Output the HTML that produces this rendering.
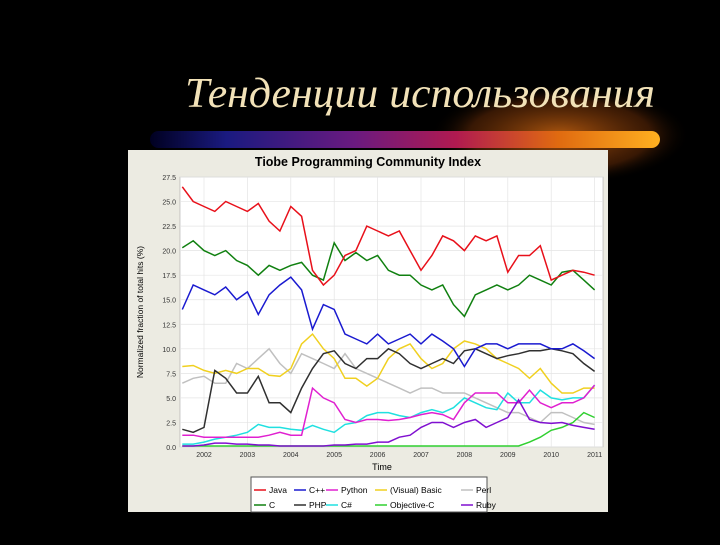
<!DOCTYPE html>
<html><head><meta charset="utf-8"><style>
body{margin:0;background:#000;width:720px;height:540px;overflow:hidden;font-family:"Liberation Sans",sans-serif}
</style></head><body>
<svg width="720" height="540" xmlns="http://www.w3.org/2000/svg">
<defs>
<linearGradient id="bar" x1="0" x2="1" y1="0" y2="0">
<stop offset="0" stop-color="#000020"/><stop offset="0.15" stop-color="#1a1a80"/><stop offset="0.4" stop-color="#6a1a80"/><stop offset="0.6" stop-color="#b01a50"/><stop offset="0.8" stop-color="#e06a10"/><stop offset="1" stop-color="#ffb020"/></linearGradient>
<radialGradient id="glow" cx="0.5" cy="0.5" r="0.5"><stop offset="0" stop-color="#c06010" stop-opacity="0.9"/><stop offset="0.7" stop-color="#703008" stop-opacity="0.5"/><stop offset="1" stop-color="#000" stop-opacity="0"/></radialGradient>
</defs>
<ellipse cx="560" cy="135" rx="130" ry="50" fill="url(#glow)"/>
<rect x="150" y="131" width="510" height="17" rx="8.5" fill="url(#bar)"/>
<text x="185" y="107" textLength="470" lengthAdjust="spacingAndGlyphs" font-family="Liberation Serif,serif" font-style="italic" font-size="42" fill="#f2e2b8">Тенденции использования</text>
<rect x="128" y="150" width="480" height="362" fill="#ecebe2"/>
<text x="368" y="166" text-anchor="middle" font-weight="bold" font-size="12.5" fill="#000">Tiobe Programming Community Index</text>
<rect x="180" y="177" width="423" height="270" fill="#fff" stroke="#999" stroke-width="0.5"/>
<g id="grid"></g><g id="axes"></g><g id="series"></g>
<text transform="translate(143,312) rotate(-90)" text-anchor="middle" font-size="8.5" fill="#000">Normalized fraction of total hits (%)</text>
<text x="382" y="470" text-anchor="middle" font-size="9" fill="#000">Time</text>
<rect x="251" y="477" width="236" height="35" fill="#fff" stroke="#555"/>
<g id="legend"></g>
</svg>
<script>
const times=[];for(let i=0;i<39;i++)times.push(2001.5+0.25*i);
const yTicks=[0,2.5,5,7.5,10,12.5,15,17.5,20,22.5,25,27.5];
const yTickLabels=["0.0","2.5","5.0","7.5","10.0","12.5","15.0","17.5","20.0","22.5","25.0","27.5"];
const xTicks=[2002,2003,2004,2005,2006,2007,2008,2009,2010,2011];
const seriesNames=["Java","C++","Python","(Visual) Basic","Perl","C","PHP","C#","Objective-C","Ruby"];
const seriesColors=["#e8101a","#1a1ad0","#e020d0","#f0d020","#c0c0c0","#108010","#303030","#20e0e0","#30d030","#8010d0"];
const java=[26.5,25,24.5,24,25,24.5,24,24.8,23,22,24.5,23.5,18,16.5,17.5,19.5,20,22.5,22,21.5,22,20,18,19.5,21.5,21,20,21.5,21,21.5,17.8,19.5,19.5,20.5,17,17.5,18,17.8,17.5];
const cpp=[14,16.5,16,15.5,16.3,15,15.8,13.5,15.5,16.5,17.3,16,12,14.5,14,11.5,11,10.5,11.5,10.5,11,11.5,10.5,11.5,10.8,10,8.2,10,10.5,10.5,10,10.5,10.5,10.5,10,10,10.5,9.8,9];
const python=[1.2,1.2,1,1,1,1,1,1,1.2,1.5,1.2,1.2,6,5,4.5,2.8,2.5,2.8,2.8,2.7,2.8,3,3.3,3.5,3.3,2.8,4.5,5.5,5.5,5.5,4.5,4.5,5.8,4.5,4,4.5,4.5,5,6.3];
const vb=[8.2,8.3,7.8,7.5,7.8,7.5,8,8,7.3,7.2,8,10.5,11.5,10,9,7,7,6.2,7,9,10,10.5,9,8,8.5,10,10.8,10.5,10,9,8.5,8,7,8,6.5,5.5,5.5,6,6];
const perl=[6.5,7,7.2,6.5,6.5,8.5,8,9,10,8.5,7.5,9.5,9,8.5,8,9.5,8,7.5,7,6.5,6,5.5,6,6,5.5,5.5,5.5,5,4.5,4,3.5,3.5,3,2.5,3.5,3.5,3,2.5,2.3];
const c=[20.3,21,20,19.5,20,19,18.5,17.5,18.5,18,18.5,18.8,17.5,17,20.8,19,19.8,19,19.5,18,17.5,17.5,16.5,16,16.5,14.5,13.3,15.5,16,16.5,16,16.5,17.5,17,16.5,17.8,18,17,16];
const php=[1.8,1.5,2,7.8,7,5.5,5.5,7.2,4.5,4.5,3.5,6,8,9.5,9.8,8.5,8,9,9,10,9.5,8.5,8,8.5,9,8.5,9.8,10,9.5,9,9.3,9.5,9.8,9.8,10,9.8,9.5,8.5,7.7];
const csharp=[0.3,0.3,0.5,0.8,1,1.2,1.5,2.3,2,2,1.8,1.7,2.2,1.8,1.5,2.3,2.5,3.2,3.5,3.5,3.2,3,3.5,3.8,3.5,4,5,4.5,4,3.8,5.5,4.5,4.5,5.8,5,4.8,5,5,6.3];
const objc=[0.1,0.1,0.1,0.1,0.1,0.1,0.1,0.1,0.1,0.1,0.1,0.1,0.1,0.1,0.1,0.1,0.1,0.1,0.1,0.1,0.1,0.1,0.1,0.1,0.1,0.1,0.1,0.1,0.1,0.1,0.1,0.1,0.5,1,1.7,2,2.5,3.5,3];
const ruby=[0.1,0.1,0.2,0.4,0.4,0.3,0.3,0.2,0.2,0.1,0.1,0.1,0.1,0.1,0.2,0.2,0.3,0.3,0.5,0.5,1,1.2,2,2.5,2.5,2,2.5,2.8,2,2.5,3,4.8,2.8,2.5,2.4,2.5,2.2,2,1.8];
const allSeries=[java,cpp,python,vb,perl,c,php,csharp,objc,ruby];
const NS="http://www.w3.org/2000/svg";
const xs=t=>204+(t-2002)*43.4;
const ys=v=>447-v*(270/27.5);
function mk(tag,attrs,parent){const e=document.createElementNS(NS,tag);for(const k in attrs)e.setAttribute(k,attrs[k]);parent.appendChild(e);return e;}
const grid=document.getElementById('grid'),axes=document.getElementById('axes'),ser=document.getElementById('series'),leg=document.getElementById('legend');
yTicks.forEach((v,i)=>{
 const l=mk('line',{x1:180,x2:603,y1:ys(v),y2:ys(v),stroke:'#e4e4e4','stroke-width':0.7},grid);
 
 
 const t=mk('text',{x:176,y:ys(v)+3,'text-anchor':'end','font-size':7,fill:'#333'},axes);
 t.textContent=yTickLabels[i];
 
 
});
xTicks.forEach(v=>{
 const l=mk('line',{x1:xs(v),x2:xs(v),y1:177,y2:447,stroke:'#e4e4e4','stroke-width':0.7},grid);
 
 
 const t=mk('text',{x:xs(v),y:457,'text-anchor':'middle','font-size':7,fill:'#333'},axes);
 t.textContent=String(v);
 
 
});
const order=[4,3,7,2,8,9,6,1,5,0];
order.forEach(si=>{
 const d=allSeries[si].map((v,i)=>(i?'L':'M')+xs(times[i]).toFixed(1)+','+ys(v).toFixed(1)).join('');
 const p=mk('path',{d:d,fill:'none',stroke:seriesColors[si],'stroke-width':1.5},ser);
 
 
});
const legX=[254,294,326,375,461];
seriesNames.forEach((n,i)=>{
 const x=legX[i%5],y=i<5?490:505;
 const l=mk('line',{x1:x,x2:x+12,y1:y,y2:y,stroke:seriesColors[i],'stroke-width':1.5},leg);
 
 
 const t=mk('text',{x:x+15,y:y+3,'font-size':8.5,fill:'#000'},leg);
 t.textContent=n;
 
 
});
</script>
</body></html>
